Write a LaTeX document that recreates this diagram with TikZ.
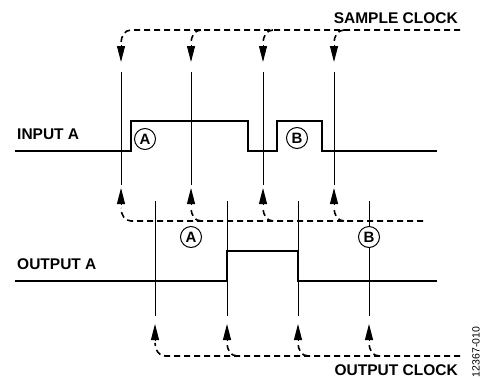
\documentclass[tikz,border=0pt]{standalone}
\usepackage{fontspec}
\setmainfont{Liberation Sans}
\usetikzlibrary{arrows.meta}
\tikzset{
  clockline/.style={line width=1.6pt, dash pattern=on 6pt off 4pt},
  clocktick/.style={-{Triangle[length=16pt,width=8pt]}, line width=1pt},
  sampleline/.style={line width=0.9pt},
  signal/.style={line width=2.2pt},
  marker/.style={circle, draw, fill=white, line width=1pt, minimum size=21pt, inner sep=0pt, font=\fontsize{15}{15}\selectfont\bfseries},
  caption/.style={font=\fontsize{15.5}{16}\selectfont\bfseries, inner sep=0pt},
}

\begin{document}
\begin{tikzpicture}[x=1pt, y=-1pt]
\useasboundingbox (0,0) rectangle (482,378);
% sample clock, top
\node[caption, anchor=east] (sampleclk) at (458,18) {SAMPLE CLOCK};
\draw[clockline] (460,30) -- (131,30) to[out=180,in=90] (121,43);
\draw[clockline] (201,30) to[out=180,in=90] (191,43);
\draw[clockline] (273,30) to[out=180,in=90] (263,43);
\draw[clockline] (344,30) to[out=180,in=90] (334,43);
\draw[clocktick] (121,45) -- (121,62);
\draw[clocktick] (191,45) -- (191,62);
\draw[clocktick] (263,45) -- (263,62);
\draw[clocktick] (334,45) -- (334,62);
\draw[sampleline] (121,72) -- (121,185);
\draw[sampleline] (191,72) -- (191,185);
\draw[sampleline] (263,72) -- (263,185);
\draw[sampleline] (334,72) -- (334,185);
% input signal
\node[caption, anchor=west] (inlabel) at (17,134) {INPUT A};
\draw[signal] (15,151) -- (131,151) -- (131,121) -- (248,121) -- (248,151) -- (277,151) -- (277,121) -- (322,121) -- (322,151) -- (437,151);
\node[marker] (inA) at (145,139) {A};
\node[marker] (inB) at (297,138) {B};
% sample clock, bottom
\draw[clockline] (423,221) -- (131,221) to[out=180,in=-90] (121,208);
\draw[clockline] (201,221) to[out=180,in=-90] (191,208);
\draw[clockline] (273,221) to[out=180,in=-90] (263,208);
\draw[clockline] (344,221) to[out=180,in=-90] (334,208);
\draw[clocktick] (121,205) -- (121,188);
\draw[clocktick] (191,205) -- (191,188);
\draw[clocktick] (263,205) -- (263,188);
\draw[clocktick] (334,205) -- (334,188);
% output clock lines
\draw[sampleline] (155,201) -- (155,316);
\draw[sampleline] (227,201) -- (227,316);
\draw[sampleline] (298,201) -- (298,316);
\draw[sampleline] (369,201) -- (369,316);
% output signal
\node[caption, anchor=west] (outlabel) at (17,264) {OUTPUT A};
\draw[signal] (15,281) -- (227,281) -- (227,251) -- (298,251) -- (298,281) -- (437,281);
\node[marker] (outA) at (191,237) {A};
\node[marker] (outB) at (369,237) {B};
% output clock
\draw[clockline] (460,356) -- (165,356) to[out=180,in=-90] (155,343);
\draw[clockline] (237,356) to[out=180,in=-90] (227,343);
\draw[clockline] (308,356) to[out=180,in=-90] (298,343);
\draw[clockline] (379,356) to[out=180,in=-90] (369,343);
\draw[clocktick] (155,341) -- (155,324);
\draw[clocktick] (227,341) -- (227,324);
\draw[clocktick] (298,341) -- (298,324);
\draw[clocktick] (369,341) -- (369,324);
\node[caption, anchor=east] (outclk) at (458,370) {OUTPUT CLOCK};
\node[rotate=90, inner sep=0pt, font=\fontsize{10.5}{11}\selectfont] (figno) at (476,352) {12367-010};
\end{tikzpicture}
\end{document}
